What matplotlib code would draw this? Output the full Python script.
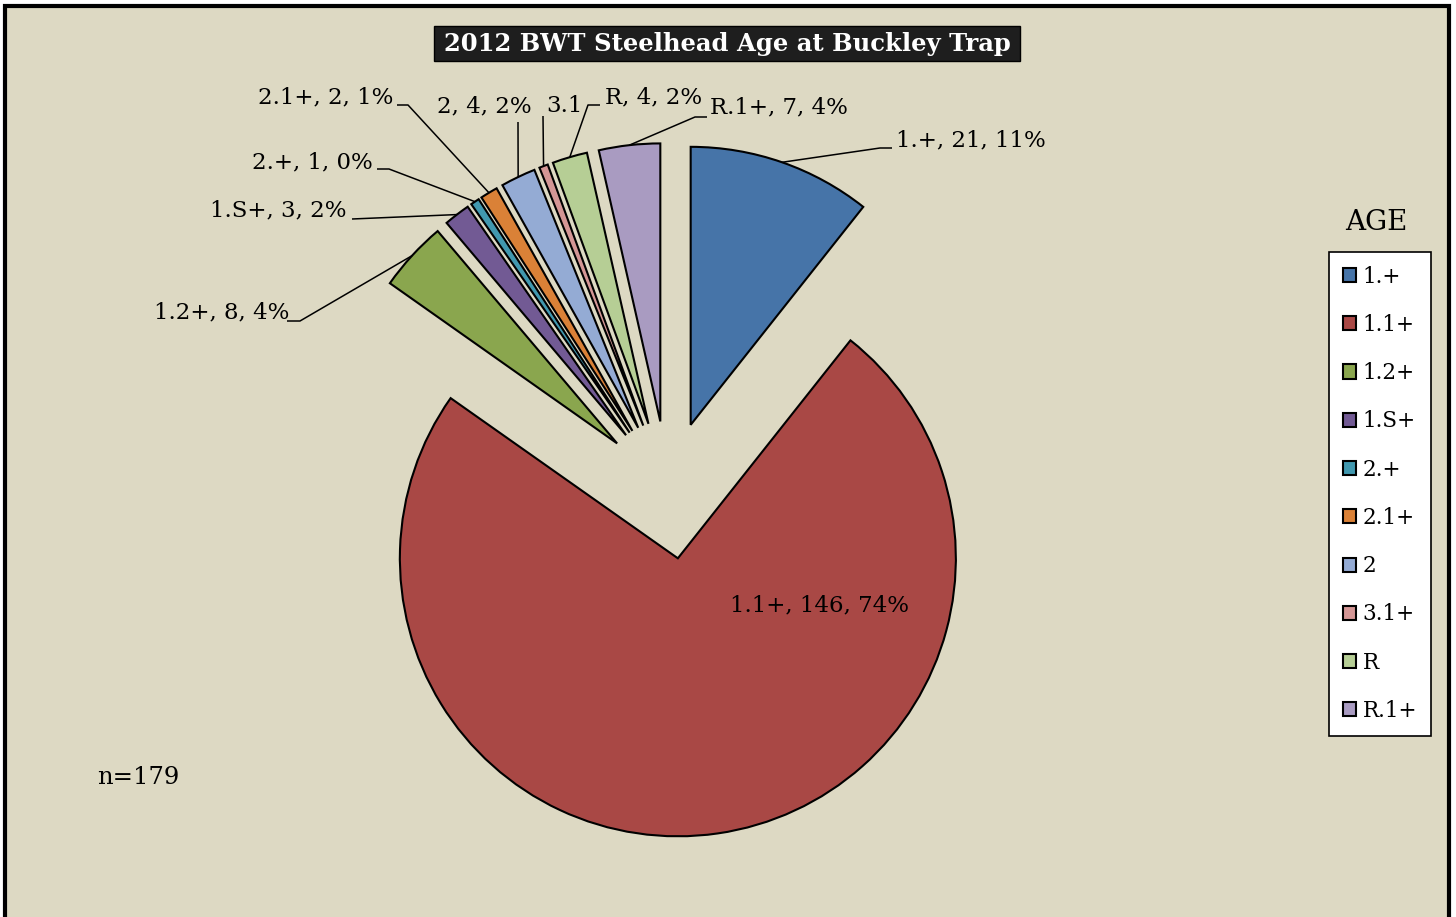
import numpy as np
import matplotlib.pyplot as plt
from matplotlib.patches import Rectangle

W, H = 1456, 917

# Data
ages = ["1.+", "1.1+", "1.2+", "1.S+", "2.+", "2.1+", "2", "3.1+", "R", "R.1+"]
counts = [21, 146, 8, 3, 1, 2, 4, 1, 4, 7]
pcts = [11, 74, 4, 2, 0, 1, 2, 1, 2, 4]
n_total = 179
title = "2012 BWT Steelhead Age at Buckley Trap"

colors = ["#4674A8", "#A94845", "#8AA64E", "#725A94", "#4198AF",
          "#DA8137", "#94ABD4", "#D49695", "#B6CE95", "#A99BC1"]
bg = "#DDD9C3"

plt.rcParams['font.family'] = ['DejaVu Serif']

fig = plt.figure(figsize=(W / 100, H / 100), dpi=100)
ax = fig.add_axes([0, 0, 1, 1])


def px(x, y):
    # image pixel coords (y down) -> data coords (y up)
    return x, H - y


# chart area with thick black frame
ax.add_patch(Rectangle(px(5, 940), 1444, 934, facecolor=bg,
                       edgecolor='black', lw=3, zorder=0))

# -----------------------------
# Pie
# -----------------------------
cx, cy = px(668, 490)
wedges, _ = ax.pie(counts, colors=colors, startangle=90, counterclock=False,
                   explode=[69] * len(counts), radius=278, center=(cx, cy),
                   wedgeprops=dict(edgecolor='black', linewidth=1.5))

ax.set_xlim(0, W)
ax.set_ylim(0, H)
ax.set_axis_off()


def arc_mid(w):
    t = np.deg2rad((w.theta1 + w.theta2) / 2)
    return w.center[0] + w.r * np.cos(t), w.center[1] + w.r * np.sin(t)


labels = [f"{a}, {c}, {p}%" for a, c, p in zip(ages, counts, pcts)]
labels[7] = labels[7][:3]  # rest is hidden under the "R" label in the original

# text position, alignment and leader elbow points (image pixels)
layout = {
    0: dict(xy=(896, 140), ha='left', path=[(892, 148), (880, 148)]),
    2: dict(xy=(289, 312), ha='right', path=[(287, 321), (300, 321)]),
    3: dict(xy=(347, 210), ha='right', path=[(352, 219)]),
    4: dict(xy=(373, 162), ha='right', path=[(377, 169), (389, 169)]),
    5: dict(xy=(393, 97), ha='right', path=[(397, 105), (408, 105)]),
    6: dict(xy=(484, 106), ha='center', path=[(518, 122)]),
    7: dict(xy=(546, 106), ha='left', path=[(543, 116)]),
    8: dict(xy=(605, 97), ha='left', path=[(600, 105), (588, 105)]),
    9: dict(xy=(710, 107), ha='left', path=[(707, 117), (695, 117)]),
}

for i, w in enumerate(wedges):
    if i not in layout:
        continue
    lay = layout[i]
    ax.text(*px(*lay['xy']), labels[i], ha=lay['ha'], va='center',
            fontsize=16.5, color='black')
    pts = [px(*p) for p in lay['path']] + [arc_mid(w)]
    xs, ys = zip(*pts)
    ax.plot(xs, ys, color='black', lw=1.1, solid_capstyle='butt')

# big slice label sits inside
ax.text(*px(820, 605), labels[1], ha='center', va='center',
        fontsize=16.5, color='black')

# -----------------------------
# Title, legend, note
# -----------------------------
ax.add_patch(Rectangle(px(434, 61), 586, 35, facecolor='#1E1E1E',
                       edgecolor='black', lw=1, zorder=3))
ax.text(*px(727, 44), title, ha='center', va='center', color='white',
        fontsize=17.5, fontweight='bold', zorder=4)

ax.text(*px(1376, 222), "AGE", ha='center', va='center', fontsize=20)

leg = ax.legend(wedges, ages, loc='upper left',
                bbox_to_anchor=(1329 / W, 1 - 252 / H),
                frameon=True, fancybox=False, framealpha=1,
                facecolor='white', edgecolor='black', fontsize=15.5,
                handlelength=0.63, handleheight=0.63, handletextpad=0.3,
                labelspacing=1.22, borderpad=0.63, borderaxespad=0)
leg.get_frame().set_linewidth(1.2)

ax.text(*px(97, 777), f"n={n_total}", ha='left', va='center', fontsize=17.5)

fig.savefig("out.png", dpi=100, facecolor='white')
